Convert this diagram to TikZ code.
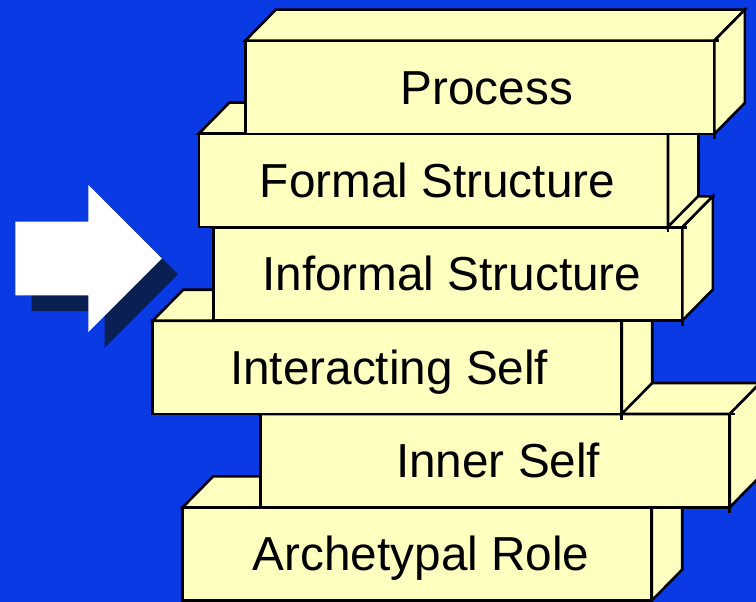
\documentclass[tikz,border=0pt]{standalone}
\usepackage{fontspec}
\setmainfont{Liberation Sans}

\definecolor{backdrop}{RGB}{10,58,228}
\definecolor{slab}{RGB}{255,255,192}
\definecolor{arrowshadow}{RGB}{10,31,82}

\tikzset{
  face/.style={draw=black, fill=slab, line width=2.6pt, line join=miter},
  front/.style={face, rectangle, minimum width=469pt, minimum height=93.3pt,
                inner sep=0pt, outer sep=0pt, anchor=north west},
  caption/.style={font=\fontsize{47.7}{57}\selectfont, text=black,
                  inner sep=0pt, anchor=base},
  edge/.style={draw=black, line width=2.6pt},
}

% one slab: front face node, top and right faces, overshooting edge ticks, label
% #1 name, #2 top-left corner of the front face, #3 label text, #4 label shift
\newcommand\slabbox[4]{%
  \node[front] (#1) at (#2) {};
  \filldraw[face] (#1.north west) -- ++(30.5,-31) -- ++(469,0)
                  -- (#1.north east) -- cycle;
  \filldraw[face] (#1.north east) -- ++(30.5,-31) -- ++(0,93.3)
                  -- (#1.south east) -- cycle;
  \draw[edge] (#1.north east) -- ++(5,0);
  \draw[edge] (#1.south east) -- ++(0,5.5);
  \node[caption] (#1-text) at ([xshift=#4,yshift=-17pt]#1.center) {#3};
}

\begin{document}
\begin{tikzpicture}[x=1pt,y=-1pt]
  \useasboundingbox (0,0) rectangle (756,602);
  \clip (0,0) rectangle (756,602);
  \fill[backdrop] (0,0) rectangle (756,602);

  % pointer arrow with its drop shadow
  \fill[arrowshadow, shift={(16.3,15.7)}]
    (15.3,221.7) -- (88.3,221.7) -- (88.3,185) -- (161.8,258.5)
    -- (88.3,332) -- (88.3,295.3) -- (15.3,295.3) -- cycle;
  \fill[white]
    (15.3,221.7) -- (88.3,221.7) -- (88.3,185) -- (161.8,258.5)
    -- (88.3,332) -- (88.3,295.3) -- (15.3,295.3) -- cycle;

  % the stack, drawn from the bottom slab upwards
  \slabbox{arch}{182.7,507.3}{Archetypal Role}{4pt}
  \slabbox{inner}{260.7,414}{Inner Self}{3pt}
  \slabbox{interact}{152.7,320.7}{Interacting Self}{2pt}
  \slabbox{informal}{213.3,227.3}{Informal Structure}{4pt}
  \slabbox{formal}{199,133.5}{Formal Structure}{4pt}
  \slabbox{process}{245.3,40.7}{Process}{7pt}
\end{tikzpicture}
\end{document}
